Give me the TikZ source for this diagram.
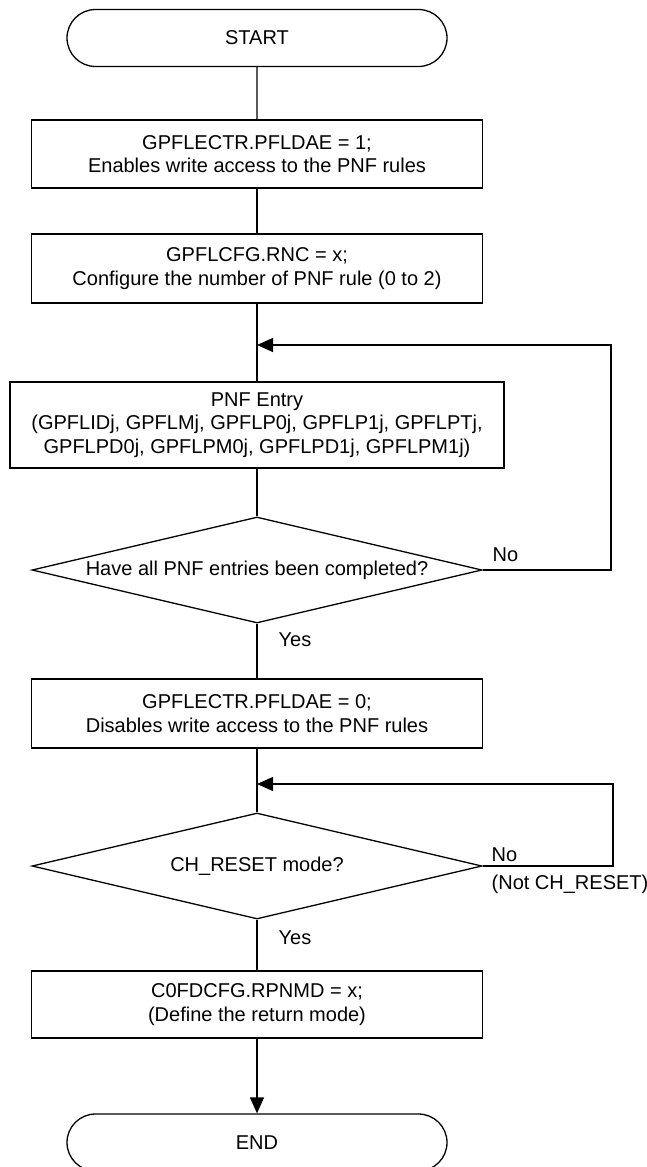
\documentclass[tikz,border=0pt]{standalone}
\usepackage{fontspec}
\setmainfont{Liberation Sans}
\usetikzlibrary{shapes.geometric,shapes.misc,arrows.meta}
\begin{document}
\begin{tikzpicture}[x=1pt,y=-1pt,line width=1.3pt,
  every node/.style={font=\fontsize{20}{23.5}\selectfont},
  term/.style={rounded rectangle,draw,minimum width=380pt,minimum height=57pt,inner sep=0pt},
  proc/.style={rectangle,draw,minimum width=451pt,inner sep=0pt,align=center},
  dec/.style={diamond,draw,minimum width=450pt,minimum height=106pt,aspect=4.25,inner sep=0pt},
  lbl/.style={anchor=west,inner sep=0pt},
  arr/.style={-{Triangle[length=16pt,width=14pt]}}]
\useasboundingbox (0,0) rectangle (647,1167);
\node[term] (start) at (257,38) {START};
\node[proc,minimum height=68pt] (b1) at (257,154) {GPFLECTR.PFLDAE = 1;\\Enables write access to the PNF rules};
\node[proc,minimum height=69pt] (b2) at (257,268.5) {GPFLCFG.RNC = x;\\Configure the number of PNF rule (0 to 2)};
\node[proc,minimum width=494pt,minimum height=86pt] (pnf) at (257,425) {PNF Entry\\(GPFLIDj, GPFLMj, GPFLP0j, GPFLP1j, GPFLPTj,\\GPFLPD0j, GPFLPM0j, GPFLPD1j, GPFLPM1j)};
\node[dec] (d1) at (257,570) {Have all PNF entries been completed?};
\node[proc,minimum height=69pt] (b3) at (257,713.5) {GPFLECTR.PFLDAE = 0;\\Disables write access to the PNF rules};
\node[dec] (d2) at (257,866) {CH\_RESET mode?};
\node[proc,minimum height=67pt] (b4) at (257,1004.5) {C0FDCFG.RPNMD = x;\\(Define the return mode)};
\node[term] (end) at (257,1142.5) {END};
\coordinate (j1) at (257,345);
\coordinate (r1) at (611,345);
\coordinate (j2) at (257,784);
\coordinate (r2) at (613,784);
\draw (start) -- (b1);
\draw (b1) -- (b2);
\draw (b2) -- (pnf);
\draw (pnf) -- (d1);
\draw (d1) -- (b3);
\draw (b3) -- (d2);
\draw (d2) -- (b4);
\draw[arr] (b4) -- (end);
\draw[arr] (d1.east) -| (r1) -- (j1);
\draw[arr] (d2.east) -| (r2) -- (j2);
\node[lbl] (no1) at (492,555) {No};
\node[lbl] (yes1) at (278,640) {Yes};
\node[lbl] (no2) at (491,855) {No};
\node[lbl] (nc) at (491,884) {(Not CH\_RESET)};
\node[lbl] (yes2) at (278,938) {Yes};
\end{tikzpicture}
\end{document}
